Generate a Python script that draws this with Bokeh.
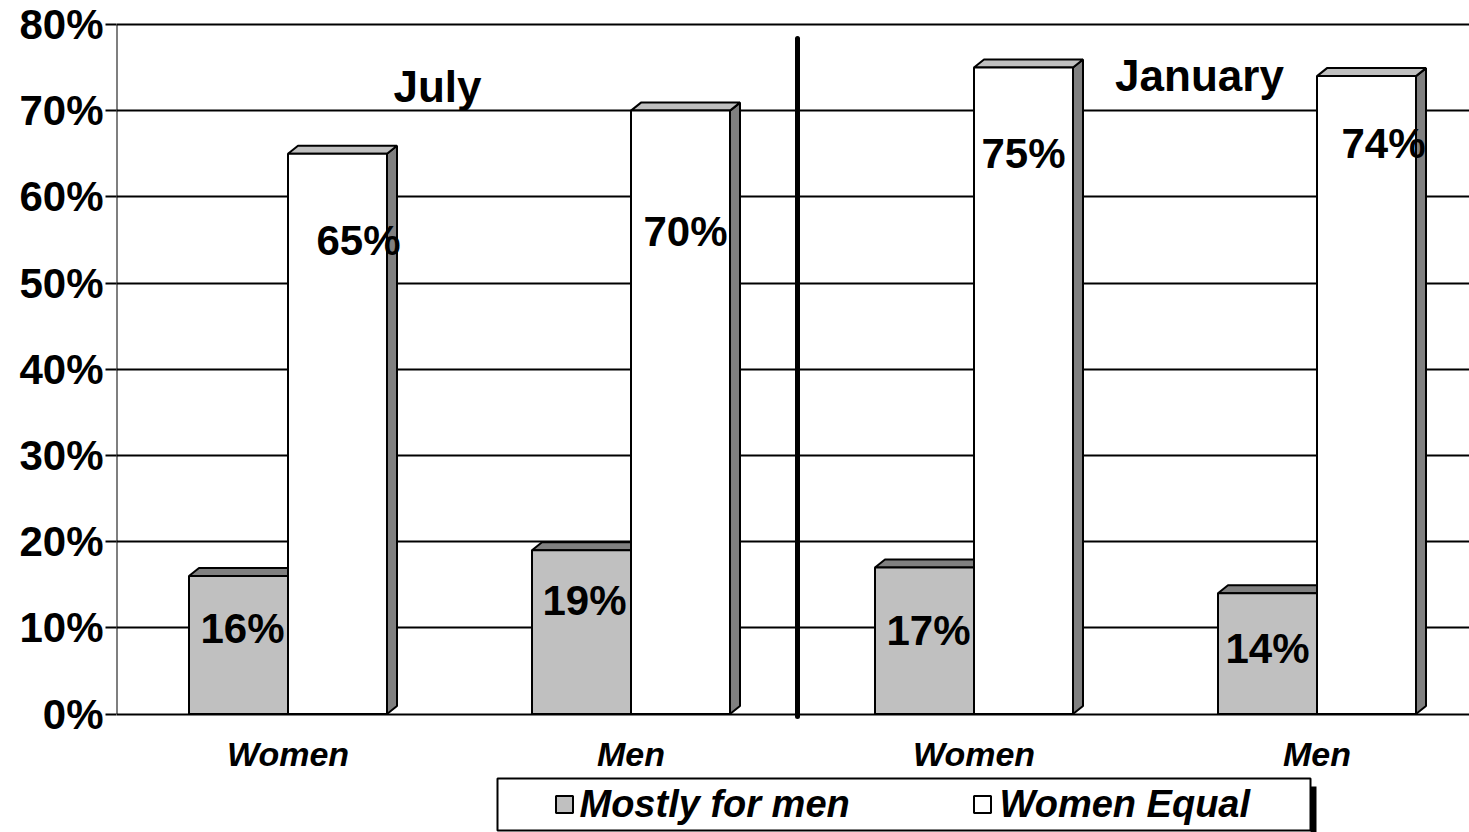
from bokeh.plotting import figure
from bokeh.models import Range1d, FixedTicker
from bokeh.core.properties import value
from bokeh.embed import file_html
from bokeh.resources import INLINE

# ---------------- data ----------------
categories = ["Women", "Men", "Women", "Men"]
mostly_for_men = [16, 19, 17, 14]
women_equal = [65, 70, 75, 74]
periods = ["July", "January"]
series_names = ["Mostly for men", "Women Equal"]
y_ticks = [0, 10, 20, 30, 40, 50, 60, 70, 80]
y_tick_labels = ["0%", "10%", "20%", "30%", "40%", "50%", "60%", "70%", "80%"]

# ---------------- layout helpers (picture pixels -> data) ----------------
X0_PX, CAT_PX = 116.0, 343.0
Y0_PX, PCT_PX = 713.5, 8.62
W_PX, H_PX = 1469, 832


def ux(px):
    return (px - X0_PX) / CAT_PX


def vy(py):
    return (Y0_PX - py) / PCT_PX


BAR_W = 99 / CAT_PX
DX = 10 / CAT_PX
DY = 8 / PCT_PX

FONT = value("Liberation Sans")
GRAY = "#C0C0C0"
DARK = "#808080"

p = figure(width=W_PX, height=H_PX,
           x_range=Range1d(0, ux(W_PX)), y_range=Range1d(vy(H_PX), vy(0)),
           output_backend="svg", toolbar_location=None,
           x_axis_location=None, y_axis_location="left",
           min_border_left=int(X0_PX), min_border_right=0,
           min_border_top=0, min_border_bottom=0)
p.outline_line_color = None
p.background_fill_color = "white"
p.border_fill_color = "white"

# y axis
ax = p.yaxis[0]
ax.ticker = FixedTicker(ticks=y_ticks)
ax.major_label_overrides = {t: lab for t, lab in zip(y_ticks, y_tick_labels)}
ax.axis_line_color = None
ax.major_tick_line_color = "black"
ax.major_tick_line_width = 2
ax.major_tick_out = 11
ax.major_tick_in = 0
ax.minor_tick_line_color = None
ax.major_label_standoff = 2
ax.major_label_text_font = "Liberation Sans"
ax.major_label_text_font_size = "42px"
ax.major_label_text_font_style = "bold"
ax.major_label_text_color = "black"

p.xgrid.visible = False
p.ygrid.ticker = FixedTicker(ticks=y_ticks)
p.ygrid.grid_line_color = "black"
p.ygrid.grid_line_width = 2
p.ygrid.grid_line_alpha = 1.0

# axis line
p.segment(x0=[0], y0=[y_ticks[0]], x1=[0], y1=[y_ticks[-1]], line_color="black", line_width=2)

centers = [i + 0.5 for i in range(len(categories))]

# ---------------- 3D bars ----------------
g_top_x, g_top_y, g_side_x, g_side_y = [], [], [], []
w_top_x, w_top_y, w_side_x, w_side_y = [], [], [], []
for c, g, w in zip(centers, mostly_for_men, women_equal):
    gl, gr = c - BAR_W, c
    g_top_x.append([gl, gl + DX, gr + DX, gr])
    g_top_y.append([g, g + DY, g + DY, g])
    g_side_x.append([gr, gr + DX, gr + DX, gr])
    g_side_y.append([0, DY, g + DY, g])
    wl, wr = c, c + BAR_W
    w_top_x.append([wl, wl + DX, wr + DX, wr])
    w_top_y.append([w, w + DY, w + DY, w])
    w_side_x.append([wr, wr + DX, wr + DX, wr])
    w_side_y.append([0, DY, w + DY, w])

p.patches(g_side_x, g_side_y, fill_color=DARK, line_color="black", line_width=2)
p.patches(g_top_x, g_top_y, fill_color=DARK, line_color="black", line_width=2)
p.quad(left=[c - BAR_W for c in centers], right=centers, bottom=0, top=mostly_for_men,
       fill_color=GRAY, line_color="black", line_width=2)
p.patches(w_side_x, w_side_y, fill_color=DARK, line_color="black", line_width=2)
p.patches(w_top_x, w_top_y, fill_color=GRAY, line_color="black", line_width=2)
p.quad(left=centers, right=[c + BAR_W for c in centers], bottom=0, top=women_equal,
       fill_color="white", line_color="black", line_width=2)

# value labels (pixel offsets from bar top)
g_dx = [4, 3, 4, 0]
g_dy = [52, 50, 63, 55]
w_dx = [21, 5, 0, 17]
w_dy = [87, 121, 86, 67]
p.text(x=[c - BAR_W / 2 for c in centers], y=mostly_for_men,
       text=[f"{v}%" for v in mostly_for_men], x_offset=g_dx, y_offset=g_dy,
       text_align="center", text_baseline="alphabetic", text_font=FONT,
       text_font_size="42px", text_font_style="bold", text_color="black")
p.text(x=[c + BAR_W / 2 for c in centers], y=women_equal,
       text=[f"{v}%" for v in women_equal], x_offset=w_dx, y_offset=w_dy,
       text_align="center", text_baseline="alphabetic", text_font=FONT,
       text_font_size="42px", text_font_style="bold", text_color="black")

# divider between periods
p.segment(x0=[ux(797)], y0=[vy(716)], x1=[ux(797)], y1=[vy(38)],
          line_color="black", line_width=5, line_cap="round")

# period titles
p.text(x=[ux(437), ux(1199)], y=[vy(86), vy(75)], text=periods,
       text_align="center", text_baseline="alphabetic", text_font=FONT,
       text_font_size="44px", text_font_style="bold", text_color="black")

# category labels
p.text(x=centers, y=[vy(753)] * len(centers), text=categories,
       text_align="center", text_baseline="alphabetic", text_font=FONT,
       text_font_size="34px", text_font_style="bold italic", text_color="black")

# legend (drawn manually)
p.quad(left=[ux(1310)], right=[ux(1316)], top=[vy(786)], bottom=[vy(845)],
       fill_color="black", line_color=None)
p.quad(left=[ux(497)], right=[ux(1310)], top=[vy(778)], bottom=[vy(830)],
       fill_color="white", line_color="black", line_width=2)
p.scatter(x=[ux(564), ux(982)], y=[vy(804)] * 2, marker="square", size=17,
          fill_color=[GRAY, "white"], line_color="black", line_width=2)
p.text(x=[ux(579), ux(999)], y=[vy(803)] * 2, text=series_names,
       text_align="left", text_baseline="alphabetic", text_font=FONT,
       text_font_size="38px", text_font_style="bold italic", text_color="black")

open("out.html", "w").write(file_html(p, INLINE))
